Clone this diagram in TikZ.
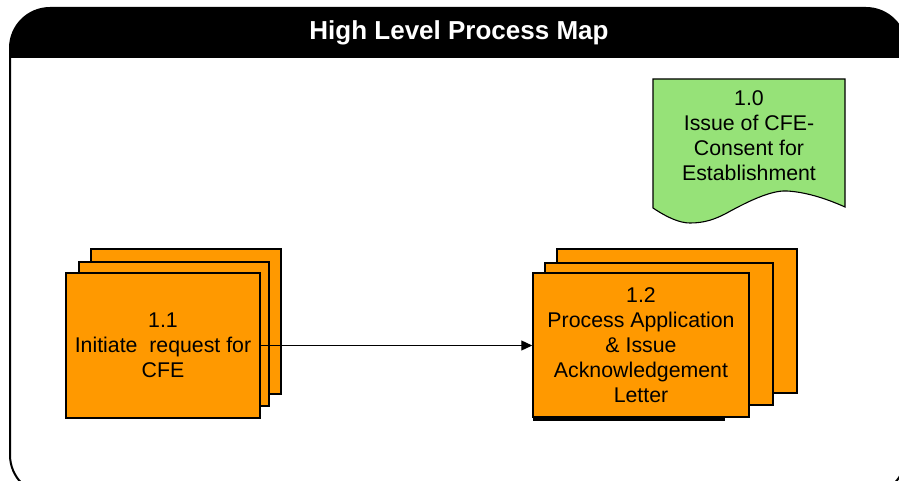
\documentclass[tikz,border=0pt]{standalone}
\usepackage{fontspec}
\setmainfont{Liberation Sans}
\usetikzlibrary{arrows.meta}
\definecolor{procorange}{RGB}{255,153,0}
\definecolor{docgreen}{RGB}{150,226,120}
\begin{document}
\begin{tikzpicture}[x=1pt,y=-1pt,
  procbox/.style={draw=black, line width=1.5pt, fill=procorange, inner sep=0pt},
  boxtext/.style={align=center, font=\fontsize{21.3}{25}\selectfont, text=black},
  frameline/.style={draw=black, line width=2pt, rounded corners=40pt},
  flow/.style={draw=black, line width=1.2pt, -{Triangle[length=11pt,width=10pt]}}]
\useasboundingbox (0,0) rectangle (899,481);
\clip (0,0) rectangle (899,481);
% frame
\fill[white] (0,0) rectangle (899,481);
\begin{scope}
  \clip (0,0) rectangle (899,58);
  \fill[black, rounded corners=40pt] (10,8) rectangle (906,495);
\end{scope}
\draw[frameline] (10,8) rectangle (906,495);
\node[text=white, font=\fontsize{26}{30}\selectfont\bfseries] (title) at (459,33) {High Level Process Map};
% document shape 1.0
\draw[fill=docgreen, line width=1.1pt]
  (653,79) -- (845,79) -- (845,207)
  .. controls (825,198) and (805,192) .. (787,191)
  .. controls (770,190) and (745,203) .. (725,214)
  .. controls (715,219) and (705,223) .. (690,223)
  .. controls (680,223) and (668,218) .. (653,208) -- cycle;
\node[boxtext] (doc) at (749,136) {1.0\\Issue of CFE-\\Consent for\\Establishment};
% stack 1.1
\node[procbox, minimum width=190pt, minimum height=145pt] (b1c) at (186,321.5) {};
\node[procbox, minimum width=190pt, minimum height=144pt] (b1b) at (174,334) {};
\node[procbox, minimum width=194pt, minimum height=145pt, boxtext] (b1) at (163,345.5) {1.1\\Initiate\ \ request for\\CFE};
% stack 1.2
\node[procbox, minimum width=240pt, minimum height=144pt] (b2c) at (677,321) {};
\node[procbox, minimum width=228pt, minimum height=142pt] (b2b) at (659,334) {};
\fill[black] (533,417) rectangle (725,421);
\node[procbox, minimum width=216pt, minimum height=144pt, boxtext] (b2) at (641,345) {1.2\\Process Application\\\&  Issue\\Acknowledgement\\Letter};
% connector
\draw[flow] (b1.east) -- (b1.east -| b2.west);
\end{tikzpicture}
\end{document}
